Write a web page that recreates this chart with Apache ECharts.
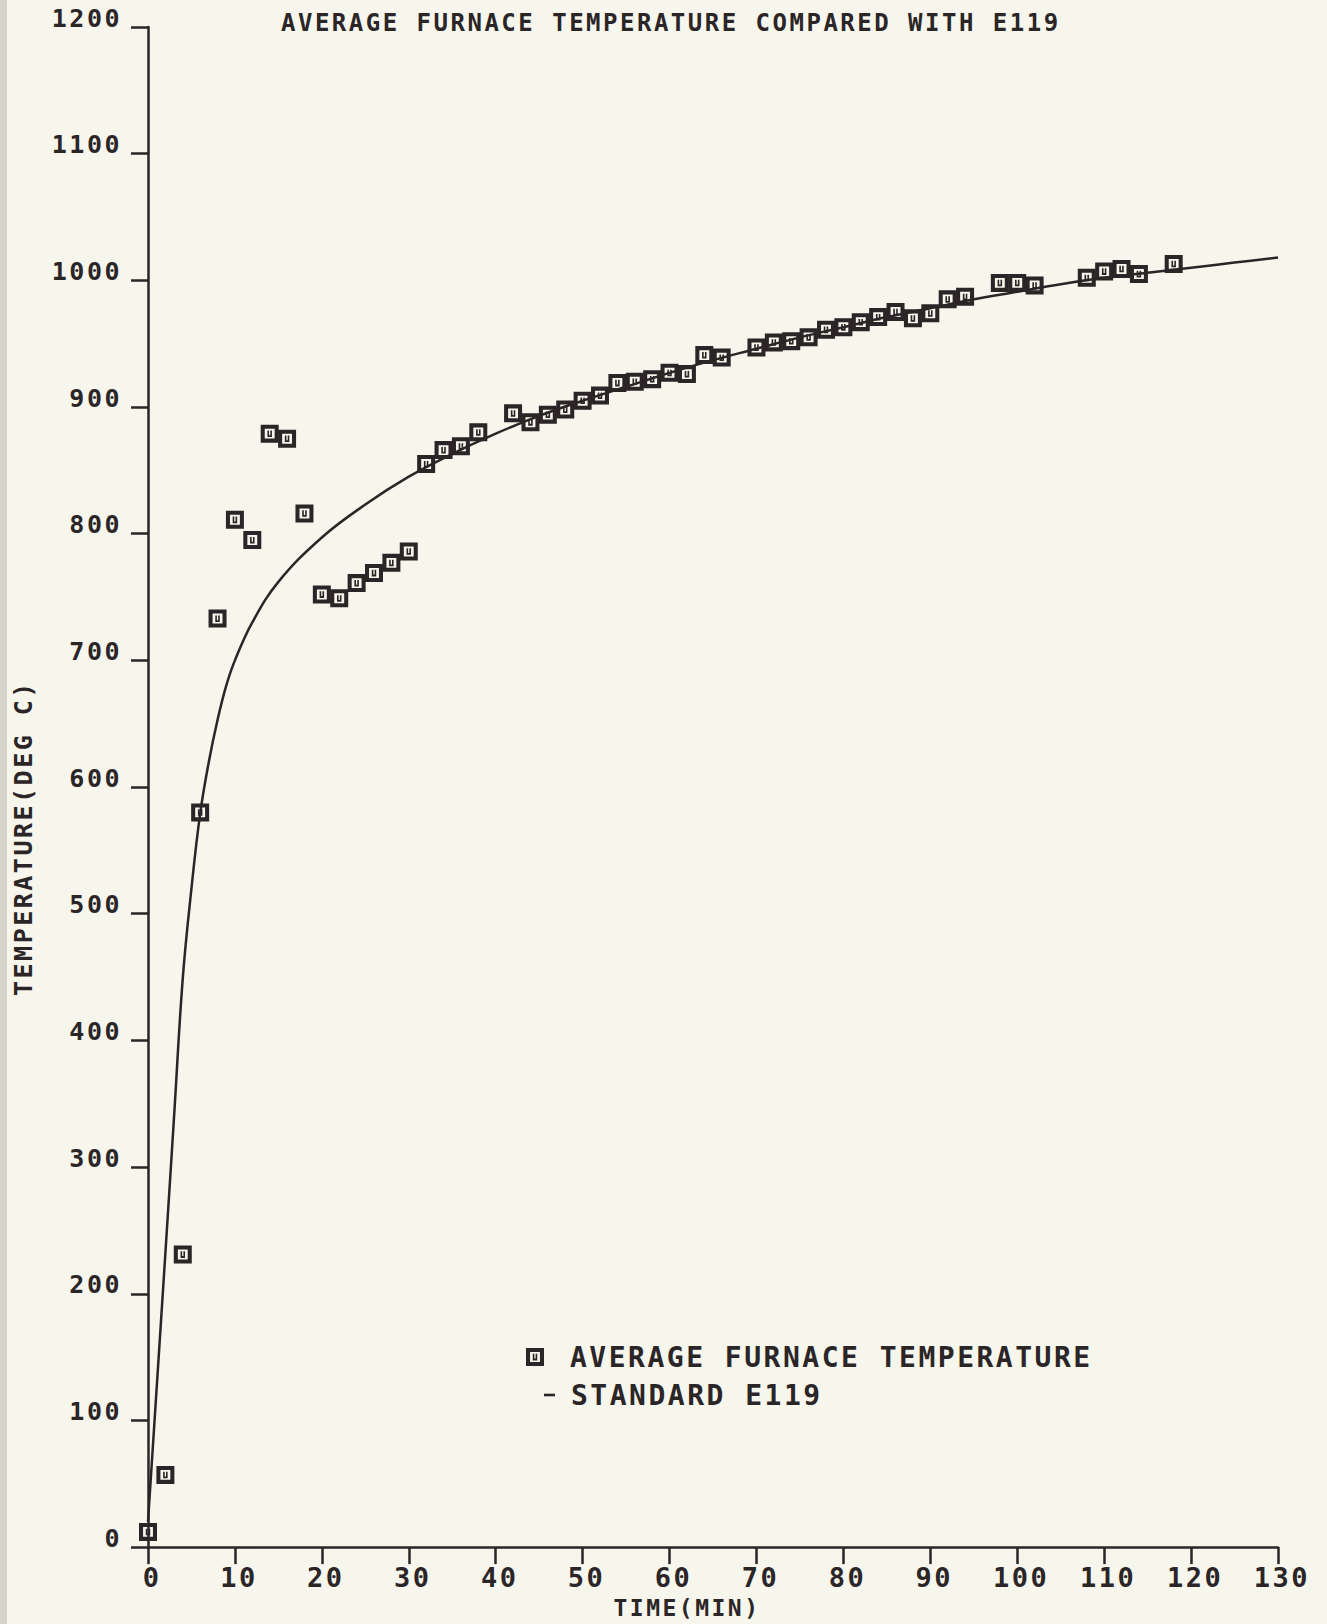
<!DOCTYPE html>
<html>
<head>
<meta charset="utf-8">
<script src="https://cdn.jsdelivr.net/npm/echarts@6/dist/echarts.min.js"></script>
<style>
    html, body { margin: 0; padding: 0; background: #f6f6ec; }
    #chart { width: 1327px; height: 1624px; }
    /* plotter lettering is widely spaced */
    #chart text { letter-spacing: 2.5px; }
</style>
</head>
<body>
<div id="chart"></div>
<script>
// average furnace temperature, read every 2 min (some readings missing)
const avgTime = [0, 2, 4, 6, 8, 10, 12, 14, 16, 18, 20, 22, 24, 26, 28, 30, 32, 34, 36, 38,
    42, 44, 46, 48, 50, 52, 54, 56, 58, 60, 62, 64, 66,
    70, 72, 74, 76, 78, 80, 82, 84, 86, 88, 90, 92, 94,
    98, 100, 102, 108, 110, 112, 114, 118];
const avgTemp = [12, 57, 231, 580, 733, 811, 795, 879, 875, 816, 752, 749, 761, 769, 777, 786, 855, 866, 869, 880,
    895, 888, 894, 898, 905, 909, 919, 920, 922, 927, 926, 941, 939,
    947, 951, 952, 955, 961, 963, 967, 971, 975, 970, 974, 985, 987,
    998, 998, 996, 1002, 1007, 1009, 1005, 1013];

// standard E119 curve
const stdTime = [0, 1, 2, 3, 4, 5, 6, 7, 8, 9, 10, 12, 15, 20, 25, 30, 35, 40, 45, 50, 55, 60,
    65, 70, 75, 80, 85, 90, 95, 100, 105, 110, 115, 120, 125, 130];
const stdTemp = [20, 126, 232, 340, 449, 520, 579, 620, 653, 680, 700, 730, 762, 797, 823, 845, 863, 879, 893, 905, 916, 927,
    937, 946, 955, 963, 971, 978, 985, 991, 997, 1002, 1006, 1010, 1014, 1018];

const ink = '#2b2527';
const font = 'DejaVu Sans Mono';
// square with a small "u" inside, like the plotter symbol
const boxSymbol = 'path://M0,0H20V20H0Z M4.5,4.5V15.5H15.5V4.5Z M7.5,6.5H9.3V11.8H10.7V6.5H12.5V13.8H7.5Z';
const dashIcon = 'path://M0,0H10V2.4H0Z';

const chart = echarts.init(document.getElementById('chart'), null, { renderer: 'svg' });

const option = {
    backgroundColor: '#f6f6ec',
    animation: false,
    // grey edge of the scanned page
    graphic: [{
        type: 'rect',
        left: 0,
        top: 0,
        shape: { width: 7, height: 1624 },
        style: { fill: '#d4d4cb' },
        silent: true
    }],
    title: {
        text: 'AVERAGE FURNACE TEMPERATURE COMPARED WITH E119',
        left: 276,
        top: 6,
        textStyle: { color: ink, fontFamily: font, fontSize: 24, fontWeight: 'bold' }
    },
    legend: [
        {
            data: [{ name: 'AVERAGE FURNACE TEMPERATURE', icon: boxSymbol }],
            left: 521,
            top: 1338,
            itemWidth: 18,
            itemHeight: 18,
            textStyle: { color: ink, fontFamily: font, fontSize: 28, fontWeight: 'bold', padding: [0, 0, 0, 21] }
        },
        {
            data: [{ name: 'STANDARD E119', icon: dashIcon }],
            left: 539,
            top: 1376,
            itemWidth: 11,
            itemHeight: 18,
            itemStyle: { color: ink },
            textStyle: { color: ink, fontFamily: font, fontSize: 28, fontWeight: 'bold', padding: [0, 0, 0, 11] }
        }
    ],
    grid: { left: 148, right: 49, top: 27, bottom: 72 },
    xAxis: {
        type: 'value',
        min: 0,
        max: 130,
        interval: 10,
        name: 'TIME(MIN)',
        nameLocation: 'middle',
        nameGap: 42,
        nameTextStyle: { color: ink, fontFamily: font, fontSize: 23, fontWeight: 'bold', padding: [0, 52, 0, 0] },
        axisLine: { show: true, onZero: false, lineStyle: { color: ink, width: 2.5 } },
        axisTick: { show: true, length: 17, lineStyle: { color: ink, width: 2.5 } },
        axisLabel: { color: ink, fontFamily: font, fontSize: 27, fontWeight: 'bold', margin: 17, padding: [0, 0, 0, 8] },
        splitLine: { show: false }
    },
    yAxis: {
        type: 'value',
        min: 0,
        max: 1200,
        interval: 100,
        name: 'TEMPERATURE(DEG C)',
        nameLocation: 'middle',
        nameGap: 112,
        nameTextStyle: { color: ink, fontFamily: font, fontSize: 25, fontWeight: 'bold', padding: [0, 102, 0, 0] },
        axisLine: { show: true, lineStyle: { color: ink, width: 2.5 } },
        axisTick: { show: true, length: 17, lineStyle: { color: ink, width: 2.5 } },
        axisLabel: {
            color: ink, fontFamily: font, fontSize: 25, fontWeight: 'bold', margin: 26,
            verticalAlign: 'bottom', lineHeight: 18,
            formatter: v => String(v)
        },
        splitLine: { show: false }
    },
    series: [
        {
            name: 'STANDARD E119',
            type: 'line',
            data: stdTime.map((t, i) => [t, stdTemp[i]]),
            smooth: 0.4,
            showSymbol: false,
            symbol: 'none',
            lineStyle: { color: ink, width: 2.5 },
            itemStyle: { color: ink },
            z: 2
        },
        {
            name: 'AVERAGE FURNACE TEMPERATURE',
            type: 'scatter',
            data: avgTime.map((t, i) => [t, avgTemp[i]]),
            symbol: boxSymbol,
            symbolSize: 18,
            itemStyle: { color: ink, opacity: 1 },
            z: 3
        }
    ]
};
chart.setOption(option);
</script>
</body>
</html>
